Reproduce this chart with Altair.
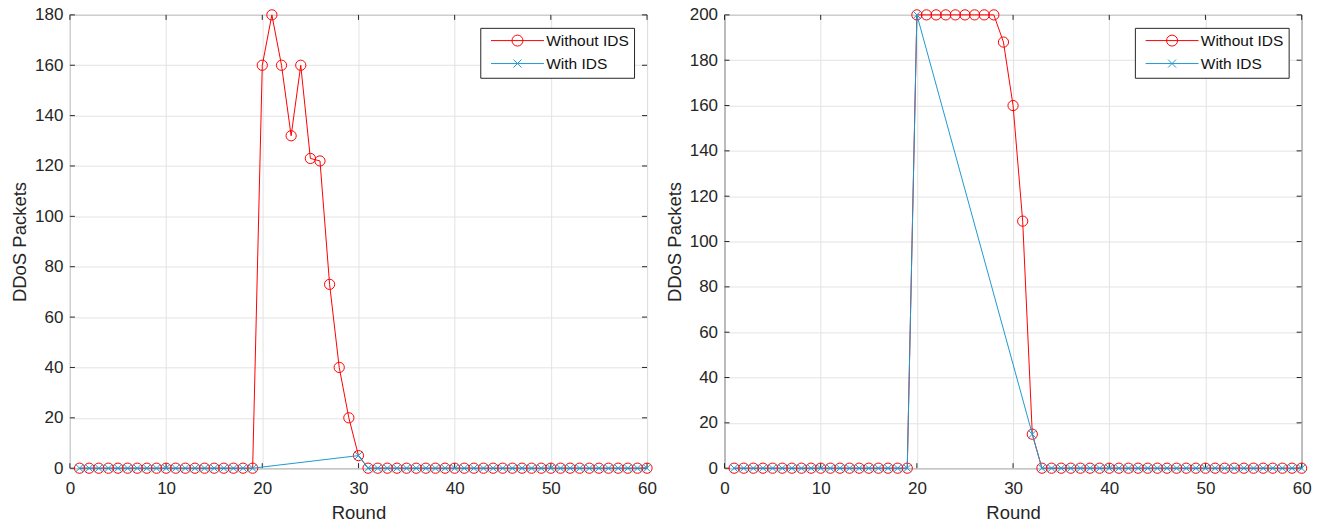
import altair as alt
import pandas as pd

# ---- data -------------------------------------------------------------
ROUNDS = list(range(1, 61))
SERIES = ["Without IDS", "With IDS"]

# scenario A
a_without = [0, 0, 0, 0, 0, 0, 0, 0, 0, 0,
             0, 0, 0, 0, 0, 0, 0, 0, 0, 160,
             180, 160, 132, 160, 123, 122, 73, 40, 20, 5,
             0, 0, 0, 0, 0, 0, 0, 0, 0, 0,
             0, 0, 0, 0, 0, 0, 0, 0, 0, 0,
             0, 0, 0, 0, 0, 0, 0, 0, 0, 0]
a_with_rounds = [1, 2, 3, 4, 5, 6, 7, 8, 9, 10,
                 11, 12, 13, 14, 15, 16, 17, 18, 19, 30,
                 31, 32, 33, 34, 35, 36, 37, 38, 39, 40,
                 41, 42, 43, 44, 45, 46, 47, 48, 49, 50,
                 51, 52, 53, 54, 55, 56, 57, 58, 59, 60]
a_with = [0, 0, 0, 0, 0, 0, 0, 0, 0, 0,
          0, 0, 0, 0, 0, 0, 0, 0, 0, 5,
          0, 0, 0, 0, 0, 0, 0, 0, 0, 0,
          0, 0, 0, 0, 0, 0, 0, 0, 0, 0,
          0, 0, 0, 0, 0, 0, 0, 0, 0, 0]
a_y_ticks = [0, 20, 40, 60, 80, 100, 120, 140, 160, 180]

# scenario B
b_without = [0, 0, 0, 0, 0, 0, 0, 0, 0, 0,
             0, 0, 0, 0, 0, 0, 0, 0, 0, 200,
             200, 200, 200, 200, 200, 200, 200, 200, 188, 160,
             109, 15, 0, 0, 0, 0, 0, 0, 0, 0,
             0, 0, 0, 0, 0, 0, 0, 0, 0, 0,
             0, 0, 0, 0, 0, 0, 0, 0, 0, 0]
b_with_rounds = [1, 2, 3, 4, 5, 6, 7, 8, 9, 10,
                 11, 12, 13, 14, 15, 16, 17, 18, 19, 20,
                 32, 33, 34, 35, 36, 37, 38, 39, 40,
                 41, 42, 43, 44, 45, 46, 47, 48, 49, 50,
                 51, 52, 53, 54, 55, 56, 57, 58, 59, 60]
b_with = [0, 0, 0, 0, 0, 0, 0, 0, 0, 0,
          0, 0, 0, 0, 0, 0, 0, 0, 0, 200,
          15, 0, 0, 0, 0, 0, 0, 0, 0,
          0, 0, 0, 0, 0, 0, 0, 0, 0, 0,
          0, 0, 0, 0, 0, 0, 0, 0, 0, 0]
b_y_ticks = [0, 20, 40, 60, 80, 100, 120, 140, 160, 180, 200]

x_ticks = [0, 10, 20, 30, 40, 50, 60]

# ---- style ------------------------------------------------------------
RED = "#ff0000"
BLUE = "#1f9ad0"
INK = "#262626"
FONT = "Liberation Sans"
W, H = 578, 454
TICK = 5

# legend glyphs: a line with its marker; symbol size 100 -> 5 px per unit.
# The leading hairline stub only widens the glyph's bounds (left margin).
LEG_SIZE = 100
LEG_CIRCLE = ("M-6.1,0L-6.09,0M-5.3,0H5.3"
              "M-1.1,0A1.1,1.1,0,1,1,1.1,0A1.1,1.1,0,1,1,-1.1,0")
LEG_CROSS = ("M-6.1,0L-6.09,0M-5.3,0H5.3"
             "M-0.8,-0.8L0.8,0.8M-0.8,0.8L0.8,-0.8")
CROSS = "M-1,-1L1,1M-1,1L1,-1"


def panel(without_vals, with_rounds, with_vals, y_ticks):
    y_max = y_ticks[-1]
    xs = alt.Scale(domain=[0, 60], nice=False, zero=False)
    ys = alt.Scale(domain=[0, y_max], nice=False, zero=False)
    x_axis = alt.Axis(values=x_ticks, title="Round", format="d")
    y_axis = alt.Axis(values=y_ticks, title="DDoS Packets", format="d")

    df_wo = pd.DataFrame({"round": ROUNDS, "packets": without_vals})
    df_w = pd.DataFrame({"round": with_rounds, "packets": with_vals})
    df_xt = pd.DataFrame({"t": x_ticks})
    df_yt = pd.DataFrame({"t": y_ticks})

    X = alt.X("round:Q", scale=xs, axis=x_axis)
    Y = alt.Y("packets:Q", scale=ys, axis=y_axis)

    # inward tick marks on all four sides of the box
    xt_bottom = alt.Chart(df_xt).mark_rule(color=INK, strokeWidth=1).encode(
        x=alt.X("t:Q", scale=xs, axis=x_axis),
        y=alt.value(H), y2=alt.value(H - TICK))
    xt_top = alt.Chart(df_xt).mark_rule(color=INK, strokeWidth=1).encode(
        x=alt.X("t:Q", scale=xs, axis=x_axis),
        y=alt.value(0), y2=alt.value(TICK))
    yt_left = alt.Chart(df_yt).mark_rule(color=INK, strokeWidth=1).encode(
        y=alt.Y("t:Q", scale=ys, axis=y_axis),
        x=alt.value(0), x2=alt.value(TICK))
    yt_right = alt.Chart(df_yt).mark_rule(color=INK, strokeWidth=1).encode(
        y=alt.Y("t:Q", scale=ys, axis=y_axis),
        x=alt.value(W), x2=alt.value(W - TICK))

    wo_line = alt.Chart(df_wo).mark_line(color=RED, strokeWidth=1).encode(x=X, y=Y)
    wo_pts = alt.Chart(df_wo).mark_point(
        shape="circle", filled=False, color=RED, size=105,
        strokeWidth=1, opacity=1).encode(x=X, y=Y)
    w_line = alt.Chart(df_w).mark_line(color=BLUE, strokeWidth=1).encode(x=X, y=Y)
    w_pts = alt.Chart(df_w).mark_point(
        shape=CROSS, filled=False, color=BLUE, size=64,
        strokeWidth=1, opacity=1).encode(x=X, y=Y)

    # legend-only layer (no rows drawn)
    df_leg = pd.DataFrame({"series": SERIES})
    legend = alt.Legend(
        title=None, orient="top-right", offset=13, padding=5,
        strokeColor=INK, fillColor="white", cornerRadius=0,
        symbolStrokeWidth=1, symbolSize=LEG_SIZE, symbolOpacity=1,
        symbolOffset=24.5, labelOffset=21,
        labelFont=FONT, labelFontSize=15.5, labelColor="#111111",
        rowPadding=6, labelLimit=300)
    leg = alt.Chart(df_leg).transform_filter("false").mark_point(
        filled=False, size=LEG_SIZE, opacity=1, strokeWidth=1).encode(
        color=alt.Color("series:N",
                        scale=alt.Scale(domain=SERIES, range=[RED, BLUE]),
                        legend=legend),
        shape=alt.Shape("series:N",
                        scale=alt.Scale(domain=SERIES,
                                        range=[LEG_CIRCLE, LEG_CROSS]),
                        legend=legend))

    return alt.layer(xt_bottom, xt_top, yt_left, yt_right,
                     wo_line, wo_pts, w_line, w_pts, leg).properties(
        width=W, height=H)


left = panel(a_without, a_with_rounds, a_with, a_y_ticks)
right = panel(b_without, b_with_rounds, b_with, b_y_ticks)

chart = alt.hconcat(left, right, spacing=7.6).resolve_scale(
    color="independent", shape="independent").resolve_legend(
    color="independent", shape="independent").properties(
    padding={"left": 10, "top": 4.5, "right": 10, "bottom": 5},
    background="white",
).configure_view(stroke=INK, strokeWidth=1).configure_axis(
    labelFont=FONT, titleFont=FONT, labelFontSize=17, titleFontSize=18.5,
    labelColor=INK, titleColor=INK, titleFontWeight="normal",
    gridColor="#e3e3e3", gridWidth=1, ticks=False, domain=False,
    labelFlush=False,
).configure_axisX(labelPadding=12, titlePadding=7).configure_axisY(
    labelPadding=7, titlePadding=5)

chart.save("out.html", embed_options={"renderer": "svg", "actions": False})
